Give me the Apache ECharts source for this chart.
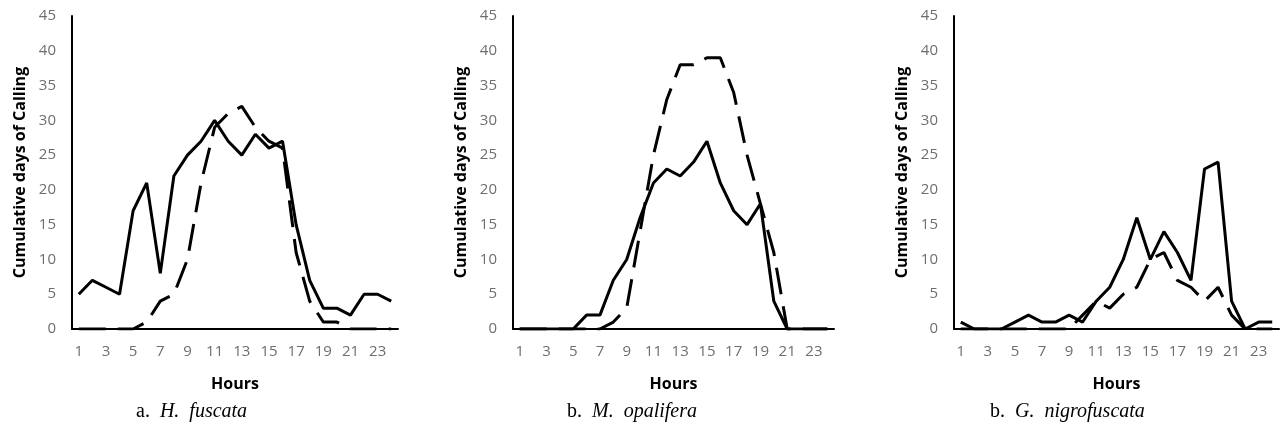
<!DOCTYPE html>
<html>
<head>
<meta charset="utf-8">
<script src="https://cdn.jsdelivr.net/npm/echarts@6/dist/echarts.min.js"></script>
<style>
  html, body { margin: 0; padding: 0; background: #fff; }
  #chart { width: 1282px; height: 435px; }
</style>
</head>
<body>
<div id="chart"></div>
<script>
// hours of the day
var hours = ['1','2','3','4','5','6','7','8','9','10','11','12','13','14','15','16','17','18','19','20','21','22','23','24'];

// a. H. fuscata
var fuscataSolid  = [5,7,6,5,17,21,8,22,25,27,30,27,25,28,26,27,15,7,3,3,2,5,5,4];
var fuscataDashed = [0,0,0,0,0,1,4,5,10,21,29,31,32,29,27,26,11,4,1,1,0,0,0,0];
// b. M. opalifera
var opaliferaSolid  = [0,0,0,0,0,2,2,7,10,16,21,23,22,24,27,21,17,15,18,4,0,0,0,0];
var opaliferaDashed = [0,0,0,0,0,0,0,1,3,14,25,33,38,38,39,39,34,25,18,11,0,0,0,0];
// b. G. nigrofuscata
var nigroSolid  = [1,0,0,0,1,2,1,1,2,1,4,6,10,16,10,14,11,7,23,24,4,0,1,1];
var nigroDashed = [0,0,0,0,0,0,0,0,0,2,4,3,5,6,10,11,7,6,4,6,2,0,0,0];

var yTicks = {min: 0, max: 45, interval: 5};
var yName = 'Cumulative days of Calling';
var xName = 'Hours';

var font = 'Open Sans';
var labelColor = '#6e6e6e';

var panels = [
  {left: 72,  width: 326, solid: fuscataSolid,   dashed: fuscataDashed,   cap: ['a.', 'H.  fuscata'],    capLeft: 131},
  {left: 513, width: 321, solid: opaliferaSolid, dashed: opaliferaDashed, cap: ['b.', 'M.  opalifera'],  capLeft: 562},
  {left: 954, width: 325, solid: nigroSolid,     dashed: nigroDashed,     cap: ['b.', 'G.  nigrofuscata'], capLeft: 985}
];

var option = {
  backgroundColor: '#fff',
  animation: false,
  title: [],
  grid: [],
  xAxis: [],
  yAxis: [],
  series: []
};

panels.forEach(function(p, i){
  option.grid.push({left: p.left, width: p.width, top: 16, height: 313, outerBoundsMode: 'none'});
  option.xAxis.push({
    type: 'category',
    gridIndex: i,
    data: hours,
    boundaryGap: true,
    name: xName,
    nameLocation: 'middle',
    nameGap: 47,
    nameTextStyle: {fontFamily: font, fontWeight: 'bold', fontSize: 16, color: '#000'},
    axisLine: {lineStyle: {color: '#000', width: 2}},
    axisTick: {show: false},
    axisLabel: {interval: 1, margin: 15, color: labelColor, fontFamily: font, fontSize: 15},
    splitLine: {show: false}
  });
  option.yAxis.push({
    type: 'value',
    gridIndex: i,
    min: yTicks.min,
    max: yTicks.max,
    interval: yTicks.interval,
    name: yName,
    nameLocation: 'middle',
    nameGap: 44,
    nameTextStyle: {fontFamily: font, fontWeight: 'bold', fontSize: 16, color: '#000'},
    axisLine: {show: true, lineStyle: {color: '#000', width: 2}},
    axisTick: {show: false},
    axisLabel: {margin: 16, color: labelColor, fontFamily: font, fontSize: 15},
    splitLine: {show: false}
  });
  option.series.push({
    type: 'line',
    xAxisIndex: i,
    yAxisIndex: i,
    data: p.dashed,
    symbol: 'none',
    lineStyle: {color: '#000', width: 3, type: [27, 12]},
    z: 3
  });
  option.series.push({
    type: 'line',
    xAxisIndex: i,
    yAxisIndex: i,
    data: p.solid,
    symbol: 'none',
    lineStyle: {color: '#000', width: 3, type: 'solid'},
    z: 4
  });
  option.title.push({
    text: '{n|' + p.cap[0] + '}  {i|' + p.cap[1] + '}',
    left: p.capLeft,
    top: 397,
    textStyle: {
      fontWeight: 'normal',
      rich: {
        n: {fontFamily: 'Liberation Serif', fontSize: 20, fontWeight: 'normal', color: '#000'},
        i: {fontFamily: 'Liberation Serif', fontSize: 20, fontWeight: 'normal', fontStyle: 'italic', color: '#000'}
      }
    }
  });
});

var chart = echarts.init(document.getElementById('chart'), null, {renderer: 'canvas'});
chart.setOption(option);
</script>
</body>
</html>
